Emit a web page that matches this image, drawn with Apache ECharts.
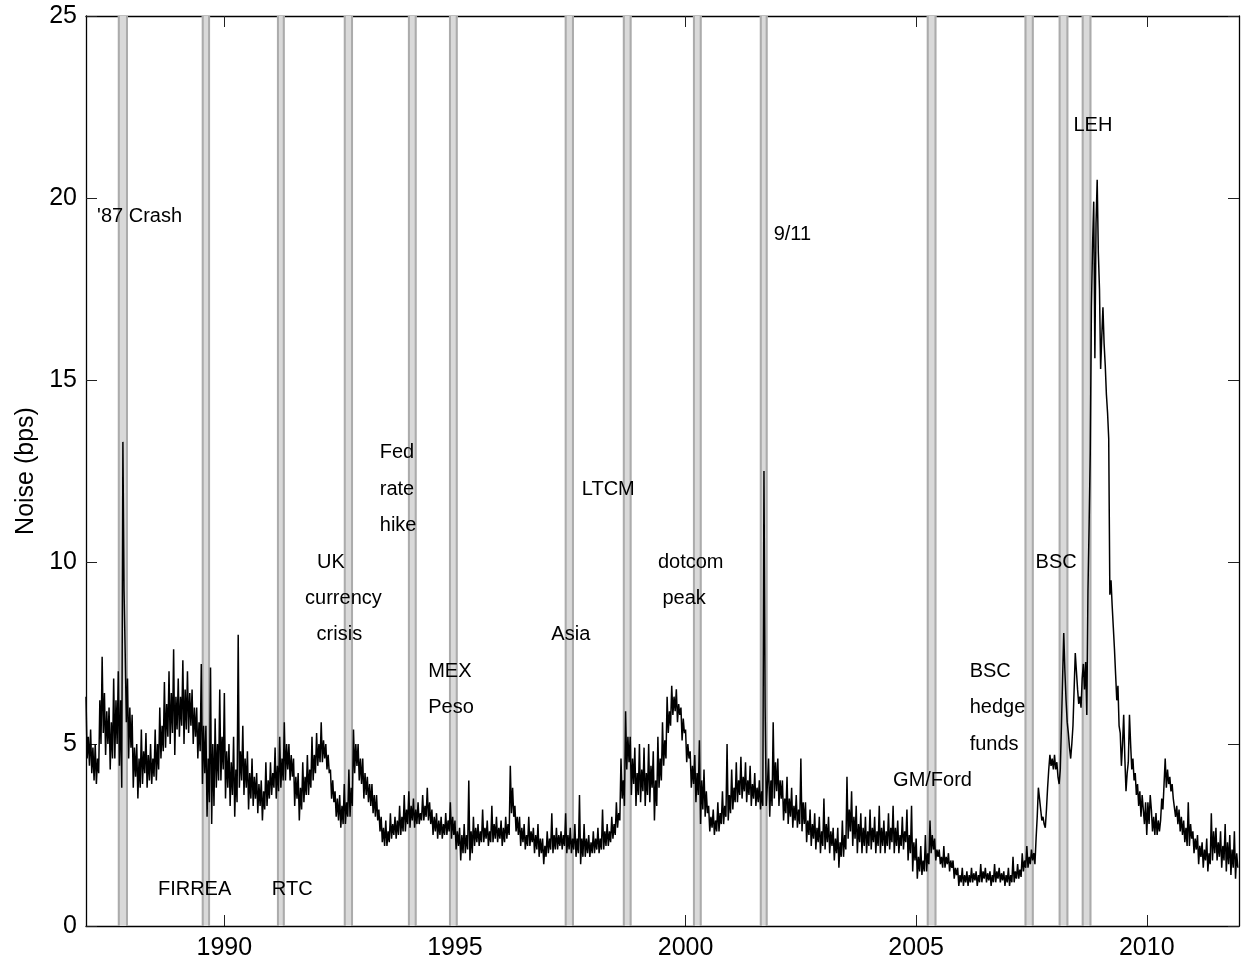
<!DOCTYPE html>
<html>
<head>
<meta charset="utf-8">
<script src="https://cdn.jsdelivr.net/npm/echarts@6.0.0/dist/echarts.min.js"></script>
<style>
  html, body { margin: 0; padding: 0; background: #fff; }
  #chart { width: 1244px; height: 964px; }
</style>
</head>
<body>
<div id="chart"></div>
<script>
// ---- DATA ----
const startYear = 1987.0;
const stepYears = 0.025;
const noise1987 = [6.3,4.6,5.2,4.4, 5.4,4.2,4.9,4.0, 5.0,3.9,4.6,4.2, 6.2,5.0,7.4,5.3, 6.4,4.7,5.9,5.0, 6.0,4.3,5.6,4.6, 6.8,4.6,6.2,5.0, 7.0,4.4,6.2,3.8, 13.3,9.2,7.5,5.6, 6.8,4.6,6.0,4.9];
const noise1988 = [5.8,3.8,4.9,4.1, 5.0,3.5,4.6,3.8, 5.4,3.9,4.8,4.2, 5.3,3.8,4.7,4.0, 5.0,3.9,4.6,4.1, 5.4,4.0,5.0,4.3, 6.0,4.6,5.5,4.8, 6.7,4.9,6.1,5.2, 7.0,5.0,6.4,5.3, 7.6,4.7,6.3,5.4];
const noise1989 = [6.8,5.2,6.3,5.5, 7.3,5.0,6.5,5.4, 7.0,5.3,6.4,5.5, 6.5,5.0,6.0,5.2, 6.0,4.6,5.6,4.8, 7.2,3.9,5.5,4.2, 5.5,3.0,4.6,3.4, 7.1,2.8,5.0,3.3, 5.7,3.8,5.0,4.0, 6.5,4.0,5.2,4.3];
const noise1990 = [6.4,3.5,4.8,3.8, 5.0,3.3,4.5,3.6, 5.2,3.0,4.3,3.4, 8.0,3.8,4.8,4.0, 5.5,3.6,4.6,3.8, 4.8,3.2,4.2,3.5, 4.6,3.3,4.1,3.5, 4.2,3.1,3.9,3.3, 4.0,2.9,3.7,3.2, 4.5,3.3,4.0,3.5];
const noise1991 = [4.5,3.6,4.2,3.8, 4.9,3.5,4.4,3.7, 5.2,3.8,4.6,4.0, 5.6,4.0,5.0,4.3, 5.0,4.0,4.7,4.1, 4.6,3.3,4.1,3.5, 4.2,2.9,3.8,3.2, 4.5,3.4,4.1,3.6, 4.7,3.6,4.3,3.8, 5.2,4.0,4.7,4.2];
const noise1992 = [5.3,4.4,5.0,4.5, 5.6,4.5,5.1,4.6, 5.0,4.3,4.7,4.2, 4.3,3.5,4.0,3.4, 3.7,3.0,3.5,2.9, 3.6,2.7,3.3,2.8, 3.9,2.8,3.4,3.0, 4.3,3.0,3.8,3.3, 5.4,4.2,5.0,4.4, 5.0,4.0,4.6,3.9];
const noise1993 = [4.6,3.5,4.2,3.6, 4.1,3.4,3.9,3.3, 3.9,3.1,3.6,3.0, 3.6,2.9,3.2,2.6, 3.0,2.3,2.7,2.2, 2.9,2.2,2.6,2.3, 3.1,2.4,2.8,2.5, 3.0,2.4,2.9,2.5, 3.3,2.5,3.0,2.6, 3.6,2.6,3.2,2.8];
const noise1994 = [3.7,2.7,3.3,2.9, 3.5,2.7,3.2,2.8, 3.4,2.8,3.1,2.9, 3.6,2.9,3.3,3.0, 3.8,2.9,3.4,2.8, 3.2,2.5,3.0,2.6, 3.1,2.4,2.9,2.5, 3.0,2.4,2.8,2.5, 3.1,2.5,2.9,2.6, 3.4,2.4,3.0,2.5];
const noise1995 = [2.9,2.1,2.6,2.2, 2.7,1.8,2.5,2.0, 2.8,2.0,2.5,2.1, 4.0,1.8,2.6,2.0, 3.0,2.2,2.7,2.3, 2.8,2.2,2.6,2.3, 3.2,2.3,2.7,2.4, 2.9,2.2,2.6,2.3, 3.3,2.3,2.8,2.4, 3.0,2.3,2.7,2.4];
const noise1996 = [2.9,2.2,2.7,2.3, 3.0,2.4,2.8,2.5, 4.4,3.1,3.8,3.0, 3.3,2.6,3.0,2.5, 3.0,2.2,2.7,2.3, 2.8,2.1,2.5,2.2, 3.0,2.2,2.6,2.3, 2.7,2.0,2.5,2.1, 2.8,1.9,2.4,2.0, 2.4,1.7,2.2,1.9];
const noise1997 = [2.6,2.0,2.4,2.1, 3.1,2.0,2.5,2.1, 2.7,2.1,2.5,2.2, 2.6,2.1,2.5,2.2, 3.1,2.0,2.5,2.1, 2.7,2.0,2.4,2.1, 2.8,1.9,2.4,2.0, 3.6,1.7,2.4,1.9, 2.8,1.9,2.4,2.0, 2.5,1.9,2.3,2.0];
const noise1998 = [2.6,2.0,2.4,2.1, 2.7,2.0,2.4,2.1, 3.2,2.1,2.6,2.2, 2.8,2.2,2.6,2.3, 3.0,2.4,2.8,2.5, 3.4,2.7,3.1,2.9, 4.6,3.5,4.0,3.3, 5.9,4.3,5.2,4.5, 5.2,3.6,4.6,3.9, 4.9,3.3,4.2,3.6];
const noise1999 = [5.0,3.4,4.3,3.7, 4.9,3.3,4.2,3.6, 5.0,3.4,4.4,3.8, 4.8,2.9,4.0,3.3, 5.2,3.8,4.6,4.0, 5.6,4.4,5.1,4.6, 6.3,5.3,5.9,5.5, 6.6,5.8,6.3,5.9, 6.5,5.6,6.1,5.8, 6.0,5.1,5.7,5.3];
const noise2000 = [5.4,4.5,5.0,4.6, 4.8,3.8,4.4,3.9, 4.7,3.4,4.2,3.6, 5.1,2.8,4.0,3.2, 4.3,3.0,3.7,3.1, 3.3,2.6,3.0,2.7, 3.2,2.5,2.9,2.6, 3.4,2.6,3.1,2.8, 3.7,2.8,3.3,3.0, 5.0,2.9,3.6,3.1];
const noise2001 = [4.3,3.2,3.8,3.4, 4.5,3.4,4.0,3.6, 4.65,3.5,4.1,3.7, 4.5,3.4,4.0,3.6, 4.4,3.3,3.9,3.5, 4.2,3.3,3.8,3.4, 4.0,3.2,3.7,3.3, 12.5,6.0,3.3,3.9, 4.6,3.0,4.0,3.3, 5.6,3.5,4.5,3.7];
const noise2002 = [4.6,3.3,4.0,3.5, 4.0,2.9,3.5,3.1, 4.1,2.8,3.5,3.0, 3.8,2.7,3.3,2.9, 3.6,2.7,3.2,2.8, 4.6,2.6,3.4,2.8, 3.4,2.3,2.9,2.5, 3.2,2.2,2.8,2.4, 3.1,2.1,2.7,2.3, 3.0,2.0,2.6,2.2];
const noise2003 = [3.5,2.1,2.8,2.3, 3.0,2.0,2.6,2.2, 2.7,1.8,2.4,2.0, 2.7,1.6,2.3,1.9, 2.9,1.9,2.5,2.1, 4.1,2.4,3.2,2.6, 3.7,2.2,3.0,2.4, 3.3,2.0,2.8,2.3, 3.1,2.0,2.7,2.2, 3.0,2.0,2.6,2.2];
const noise2004 = [3.2,2.1,2.7,2.3, 3.0,2.0,2.6,2.2, 3.3,2.0,2.7,2.2, 2.9,2.0,2.6,2.2, 3.1,2.1,2.7,2.3, 3.3,2.0,2.7,2.2, 2.9,2.0,2.5,2.2, 3.0,2.1,2.6,2.3, 3.2,1.8,2.5,2.0, 3.3,1.5,2.3,1.8];
const noise2005 = [2.4,1.3,1.9,1.5, 2.2,1.4,1.8,1.5, 2.5,1.5,2.0,1.7, 2.9,2.0,2.5,2.1, 2.4,1.8,2.1,1.9, 2.1,1.7,1.9,1.6, 2.2,1.6,1.9,1.7, 2.0,1.5,1.8,1.6, 1.8,1.3,1.6,1.4, 1.6,1.1,1.4,1.2];
const noise2006 = [1.6,1.1,1.4,1.2, 1.5,1.1,1.4,1.2, 1.6,1.2,1.45,1.25, 1.5,1.1,1.4,1.2, 1.7,1.2,1.5,1.3, 1.6,1.2,1.45,1.25, 1.5,1.1,1.4,1.2, 1.7,1.2,1.5,1.3, 1.6,1.2,1.45,1.25, 1.5,1.1,1.4,1.2];
const noise2007 = [1.6,1.1,1.4,1.2, 1.9,1.2,1.5,1.3, 1.7,1.3,1.55,1.35, 2.0,1.5,1.8,1.6, 2.2,1.6,1.9,1.7, 2.1,1.8,2.0,1.7, 2.4,3.0,3.8,3.5, 3.2,2.9,3.0,2.8, 2.7,3.2,3.8,4.3, 4.7,4.4,4.6,4.3];
const noise2008 = [4.7,4.3,4.5,4.1, 3.9,4.3,5.5,6.8, 8.05,7.0,6.2,5.6, 5.3,4.9,4.6,5.0, 5.5,6.5,7.5,7.0, 6.5,6.1,6.3,6.0, 6.8,7.2,6.5,7.25, 5.8,9.2,11.0,13.0, 17.0,18.7,19.9,15.6, 19.3,20.5,18.5,17.5];
const noise2009 = [15.3,16.2,17.0,16.0, 15.4,14.6,14.1,13.4, 9.1,9.5,8.8,8.2, 7.6,6.9,6.2,6.6, 5.5,5.3,4.4,5.0, 5.8,4.6,3.7,4.2, 4.5,5.8,5.0,4.3, 4.6,4.0,4.2,3.6, 3.9,3.3,3.7,3.0, 3.6,3.2,2.8,3.4];
const noise2010 = [2.5,3.4,2.8,3.6, 3.2,2.6,3.0,2.5, 3.1,2.5,2.9,2.6, 2.9,3.5,3.2,3.9, 4.6,3.8,4.3,3.9, 4.1,3.7,3.9,3.5, 3.5,3.0,3.3,2.8, 3.2,2.6,3.0,2.5, 2.9,2.3,2.7,2.2, 3.4,2.2,2.8,2.4];
const noise2011 = [2.6,2.0,2.4,2.1, 2.5,1.7,2.2,1.9, 2.3,1.6,2.1,1.8, 2.4,1.5,2.0,1.7, 3.1,1.8,2.6,2.0, 2.7,1.8,2.3,1.9, 2.6,1.6,2.2,1.8, 2.8,1.5,2.3,1.7, 2.5,1.4,2.1,1.6, 2.6,1.3,2.0,1.6];

// Event windows (shaded bands), decimal years
const eventStart = [1987.69, 1989.51, 1991.14, 1992.59, 1993.98, 1994.87, 1997.38, 1998.64, 2000.16, 2001.61, 2005.23, 2007.35, 2008.09, 2008.59];
const eventEnd   = [1987.91, 1989.69, 1991.31, 1992.79, 1994.17, 1995.06, 1997.58, 1998.83, 2000.35, 2001.78, 2005.44, 2007.55, 2008.30, 2008.80];

// Annotations
const annoText = ["'87 Crash", "FIRREA", "RTC", "UK", "currency", "crisis", "Fed", "rate", "hike", "MEX", "Peso", "Asia", "LTCM", "dotcom", "peak", "9/11", "GM/Ford", "BSC", "hedge", "funds", "BSC", "LEH"];
const annoX = [1987.24, 1988.56, 1991.03, 1992.01, 1991.75, 1992.0, 1993.37, 1993.37, 1993.37, 1994.42, 1994.42, 1997.09, 1997.75, 1999.40, 1999.50, 2001.91, 2004.50, 2006.16, 2006.16, 2006.16, 2007.59, 2008.41];
const annoY = [19.5, 1, 1, 10, 9, 8, 13, 12, 11, 7, 6, 8, 12, 10, 9, 19, 4, 7, 6, 5, 10, 22];

// Axis ticks
const xTicks = [1990, 1995, 2000, 2005, 2010];

// ---- BUILD ----
const noiseByYear = [noise1987, noise1988, noise1989, noise1990, noise1991, noise1992, noise1993, noise1994, noise1995, noise1996, noise1997, noise1998, noise1999, noise2000, noise2001, noise2002, noise2003, noise2004, noise2005, noise2006, noise2007, noise2008, noise2009, noise2010, noise2011];
const lineData = [];
let idx = 0;
noiseByYear.forEach(arr => arr.forEach(v => { lineData.push([+(startYear + idx * stepYears).toFixed(4), v]); idx++; }));

const bandData = eventStart.map((s, i) => [s, eventEnd[i]]);
const annoData = annoText.map((t, i) => ({ name: t, value: [annoX[i], annoY[i]] }));

const FONT = '"Liberation Sans", Arial, Helvetica, sans-serif';
const chart = echarts.init(document.getElementById('chart'), null, { renderer: 'canvas' });

const baseX = {
  type: 'value', min: 1987, max: 2012,
  axisLine: { show: true, onZero: false, lineStyle: { color: '#000', width: 1.3 } },
  splitLine: { show: false }
};
const baseY = {
  type: 'value', min: 0, max: 25, interval: 5,
  axisLine: { show: true, onZero: false, lineStyle: { color: '#000', width: 1.3 } },
  splitLine: { show: false }
};

chart.setOption({
  animation: false,
  backgroundColor: '#fff',
  grid: { left: 86, right: 5, top: 16, bottom: 38, containLabel: false, outerBoundsMode: 'none' },
  xAxis: [
    Object.assign({}, baseX, {
      position: 'bottom',
      axisTick: { show: true, inside: true, length: 11, customValues: xTicks, lineStyle: { color: '#222', width: 1 } },
      axisLabel: { show: true, customValues: xTicks, formatter: v => String(v), fontSize: 25, color: '#000', fontFamily: FONT, margin: 10 }
    }),
    Object.assign({}, baseX, {
      position: 'top',
      axisTick: { show: true, inside: true, length: 11, customValues: xTicks, lineStyle: { color: '#222', width: 1 } },
      axisLabel: { show: false }
    })
  ],
  yAxis: [
    Object.assign({}, baseY, {
      position: 'left',
      name: 'Noise (bps)', nameLocation: 'middle', nameGap: 46,
      nameTextStyle: { fontSize: 25, color: '#000', fontFamily: FONT },
      axisTick: { show: true, inside: true, length: 11, lineStyle: { color: '#222', width: 1 } },
      axisLabel: { show: true, fontSize: 25, color: '#000', fontFamily: FONT, margin: 9 }
    }),
    Object.assign({}, baseY, {
      position: 'right',
      axisTick: { show: true, inside: true, length: 11, lineStyle: { color: '#222', width: 1 } },
      axisLabel: { show: false }
    })
  ],
  series: [
    {
      type: 'custom',
      z: 1,
      silent: true,
      data: bandData,
      renderItem: function (params, api) {
        const p0 = api.coord([api.value(0), 25]);
        const p1 = api.coord([api.value(1), 0]);
        const w = p1[0] - p0[0], h = p1[1] - p0[1];
        return {
          type: 'group',
          children: [
            { type: 'rect', shape: { x: p0[0], y: p0[1], width: w, height: h }, style: { fill: '#d9d9d9' } },
            { type: 'line', shape: { x1: p0[0] + 1, y1: p0[1], x2: p0[0] + 1, y2: p1[1] }, style: { stroke: '#ababab', lineWidth: 2 } },
            { type: 'line', shape: { x1: p1[0] - 1, y1: p0[1], x2: p1[0] - 1, y2: p1[1] }, style: { stroke: '#ababab', lineWidth: 2 } }
          ]
        };
      }
    },
    {
      type: 'line',
      z: 2,
      data: lineData,
      showSymbol: false,
      symbol: 'none',
      silent: true,
      lineStyle: { color: '#000', width: 1.5 },
      clip: true
    },
    {
      type: 'scatter',
      z: 3,
      silent: true,
      symbolSize: 0,
      itemStyle: { opacity: 1 },
      data: annoData,
      label: {
        show: true, position: 'right', distance: 0, formatter: '{b}',
        fontSize: 20, color: '#000', opacity: 1, fontFamily: FONT
      }
    }
  ]
});
</script>
</body>
</html>
